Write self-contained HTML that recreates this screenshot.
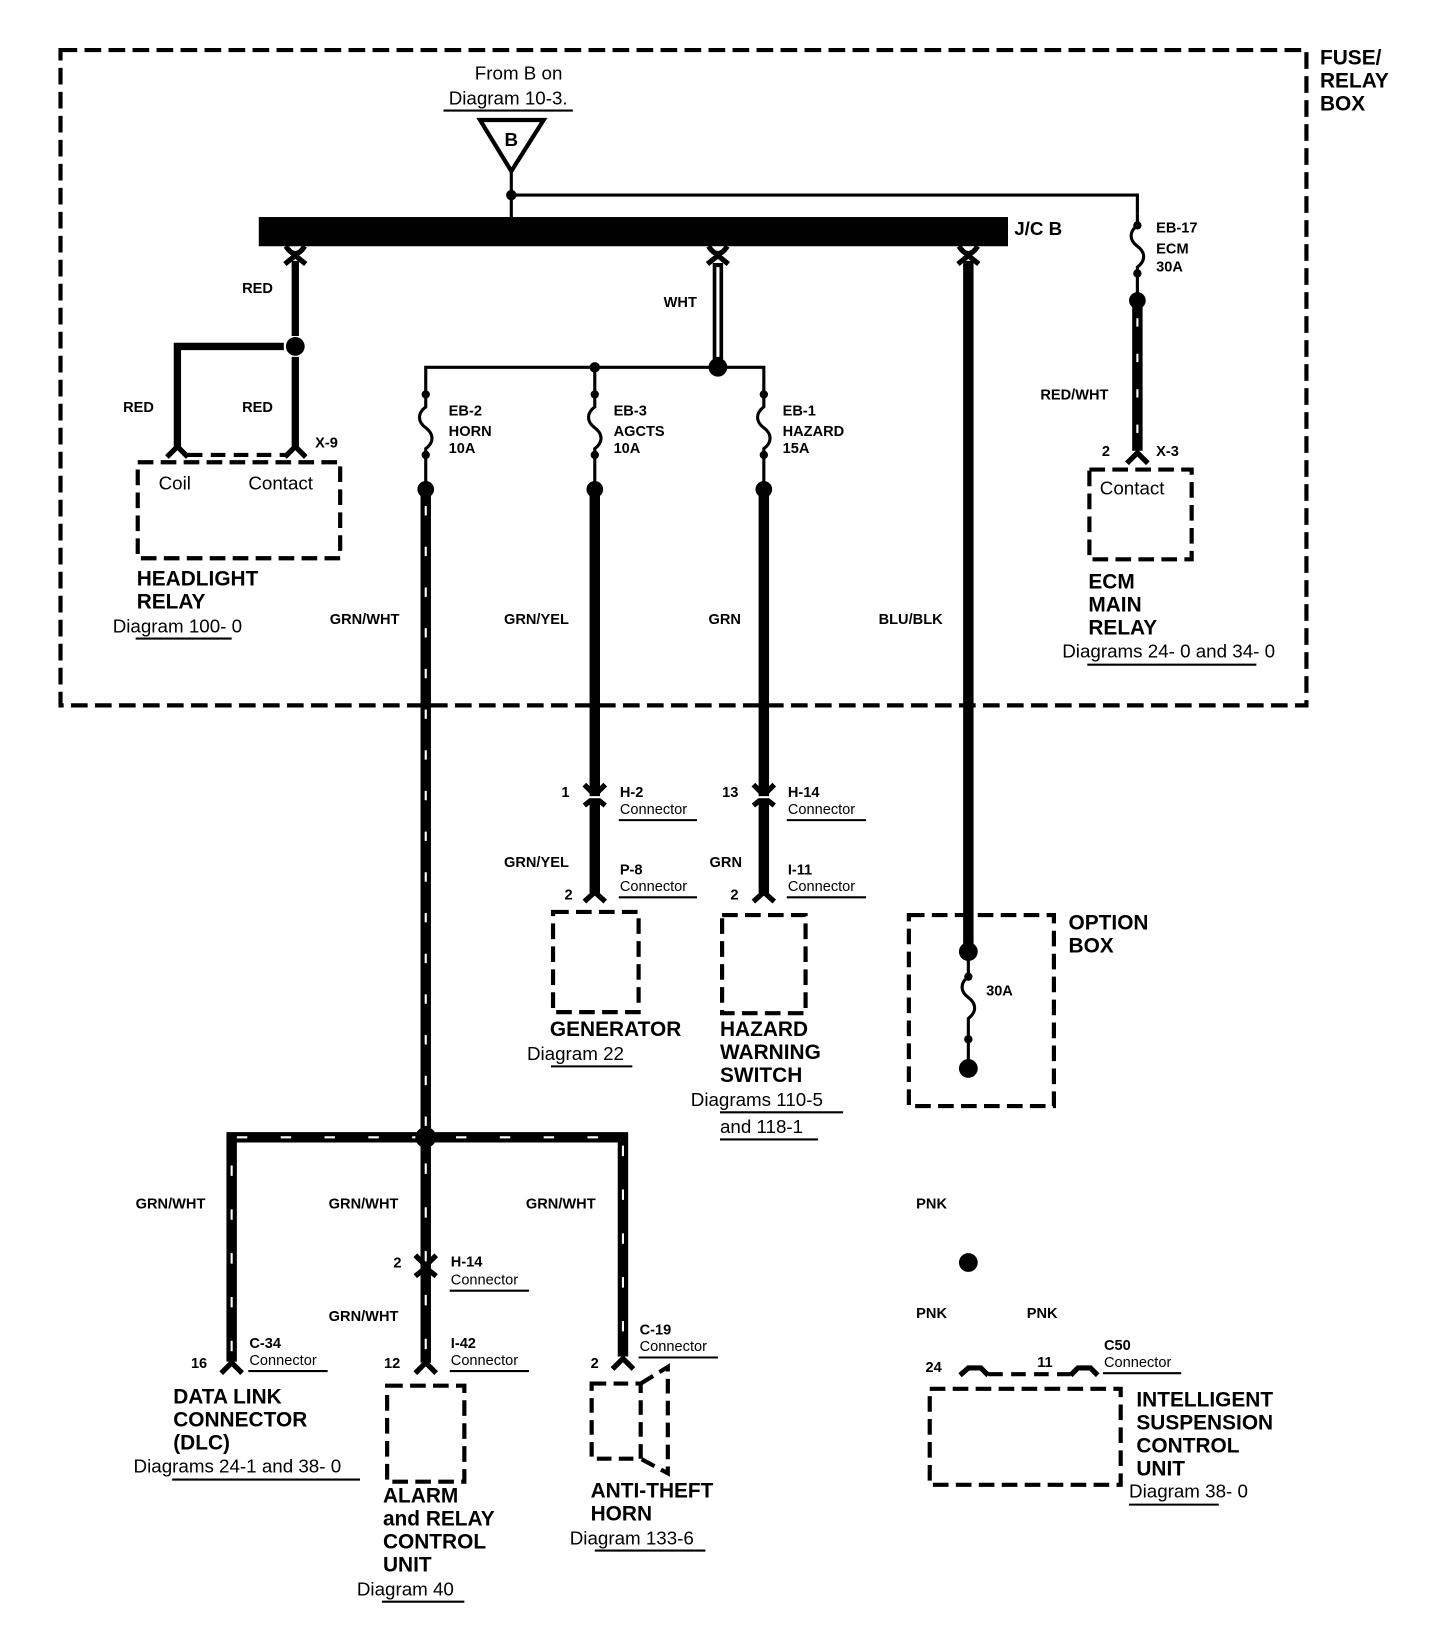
<!DOCTYPE html>
<html><head><meta charset="utf-8"><style>
html,body{margin:0;padding:0;background:#fff;}
svg{display:block}
text{font-family:"Liberation Sans",Arial,sans-serif;fill:#000}
.b{font-weight:bold}
.s{font-size:14px;font-weight:bold}
.c{font-size:14px}
.L{font-size:20px;font-weight:bold}
.d{font-size:18px}
</style></head><body>
<svg width="1440" height="1634" viewBox="0 0 1380 1566" preserveAspectRatio="none" xmlns="http://www.w3.org/2000/svg">
<g fill="none" stroke="#000" stroke-linecap="butt">
<rect x="58" y="48" width="1194" height="628" stroke-width="4" stroke-dasharray="16 7"/>
</g>
<text class="L" x="1265" y="62">FUSE/</text>
<text class="L" x="1265" y="84">RELAY</text>
<text class="L" x="1265" y="106">BOX</text>
<text class="d" x="497" y="76" text-anchor="middle">From B on</text>
<text class="d" x="487" y="100" text-anchor="middle">Diagram 10-3.</text>
<line x1="425" y1="106" x2="549" y2="106" stroke="#000" stroke-width="2"/>
<polygon points="460,115 521,115 490,164" fill="none" stroke="#000" stroke-width="4"/>
<text class="b" x="490" y="140" font-size="18" text-anchor="middle">B</text>
<g stroke="#000" fill="none" stroke-width="3">
<line x1="490" y1="164" x2="490" y2="210"/>
<polyline points="490,187 1090,187 1090,205"/>
<path d="M1090,205 L1090,216 C1082,222 1082,230 1090,236 C1098,242 1098,250 1090,256 L1090,288" stroke-width="3"/>
</g>
<circle cx="490" cy="187" r="5"/>
<circle cx="1090" cy="216" r="4"/><circle cx="1090" cy="262" r="4"/>
<circle cx="1090" cy="288" r="8"/>
<text class="s" x="1108" y="223">EB-17</text>
<text class="s" x="1108" y="243">ECM</text>
<text class="s" x="1108" y="260">30A</text>
<line x1="1090" y1="288" x2="1090" y2="432" stroke="#000" stroke-width="10"/>
<line x1="1090" y1="305" x2="1090" y2="430" stroke="#fff" stroke-width="2" stroke-dasharray="8 26"/>
<text class="s" x="997" y="383">RED/WHT</text>
<path d="M1080,444 L1090,434 L1100,444" stroke="#000" stroke-width="5" fill="none"/>
<text class="s" x="1056" y="437">2</text><text class="s" x="1108" y="437">X-3</text>
<rect x="1044" y="450" width="98" height="86" fill="none" stroke="#000" stroke-width="4" stroke-dasharray="15 7"/>
<text class="d" x="1054" y="474">Contact</text>
<text class="L" x="1043" y="564">ECM</text>
<text class="L" x="1043" y="586">MAIN</text>
<text class="L" x="1043" y="608">RELAY</text>
<text class="d" x="1018" y="630">Diagrams 24- 0 and 34- 0</text>
<line x1="1042" y1="637" x2="1204" y2="637" stroke="#000" stroke-width="2"/>
<rect x="248" y="208" width="718" height="28" fill="#000"/>
<text class="b" x="972" y="225" font-size="18">J/C B</text>
<g stroke="#000" stroke-width="5" fill="none">
<path d="M274,236 Q283,250 292,236"/><path d="M273,253 L283,245 L293,253"/>
<path d="M679,236 Q688,250 697,236"/><path d="M678,253 L688,245 L698,253"/>
<path d="M919,236 Q928,250 937,236"/><path d="M918,253 L928,245 L938,253"/>
</g>
<g stroke="#000" stroke-width="7" fill="none">
<line x1="283" y1="250" x2="283" y2="322"/>
<line x1="283" y1="342" x2="283" y2="428"/>
<polyline points="272,332 170,332 170,428"/>
</g>
<circle cx="283" cy="332" r="9"/>
<text class="s" x="232" y="281">RED</text>
<text class="s" x="118" y="395">RED</text>
<text class="s" x="232" y="395">RED</text>
<g stroke="#000" stroke-width="5" fill="none">
<path d="M160,438 L170,428 L180,438"/><path d="M273,438 L283,428 L293,438"/>
<line x1="180" y1="436" x2="273" y2="436" stroke-dasharray="14 8" stroke-width="4"/>
</g>
<text class="s" x="302" y="429">X-9</text>
<rect x="132" y="443" width="194" height="92" fill="none" stroke="#000" stroke-width="4" stroke-dasharray="15 7"/>
<text class="d" x="152" y="469">Coil</text>
<text class="d" x="238" y="469">Contact</text>
<text class="L" x="131" y="561">HEADLIGHT</text>
<text class="L" x="131" y="583">RELAY</text>
<text class="d" x="108" y="606">Diagram 100- 0</text>
<line x1="130" y1="612" x2="222" y2="612" stroke="#000" stroke-width="2"/>
<line x1="688" y1="252" x2="688" y2="348" stroke="#000" stroke-width="10"/>
<line x1="688" y1="256" x2="688" y2="342" stroke="#fff" stroke-width="3"/>
<text class="s" x="636" y="294">WHT</text>
<circle cx="688" cy="352" r="9"/>
<polyline points="408,376 408,352 732,352 732,376" fill="none" stroke="#000" stroke-width="3"/>
<line x1="570" y1="352" x2="570" y2="376" stroke="#000" stroke-width="3"/>
<circle cx="570" cy="352" r="5"/>
<g stroke="#000" stroke-width="3" fill="none">
<path d="M408,376 L408,390 C400,396 400,404 408,410 C416,416 416,424 408,430 L408,468"/>
<path d="M570,376 L570,390 C562,396 562,404 570,410 C578,416 578,424 570,430 L570,468"/>
<path d="M732,376 L732,390 C724,396 724,404 732,410 C740,416 740,424 732,430 L732,468"/>
</g>
<g>
<circle cx="408" cy="378" r="4"/><circle cx="408" cy="436" r="4"/><circle cx="408" cy="469" r="8"/>
<circle cx="570" cy="378" r="4"/><circle cx="570" cy="436" r="4"/><circle cx="570" cy="469" r="8"/>
<circle cx="732" cy="378" r="4"/><circle cx="732" cy="436" r="4"/><circle cx="732" cy="469" r="8"/>
</g>
<text class="s" x="430" y="398">EB-2</text><text class="s" x="430" y="418">HORN</text><text class="s" x="430" y="434">10A</text>
<text class="s" x="588" y="398">EB-3</text><text class="s" x="588" y="418">AGCTS</text><text class="s" x="588" y="434">10A</text>
<text class="s" x="750" y="398">EB-1</text><text class="s" x="750" y="418">HAZARD</text><text class="s" x="750" y="434">15A</text>
<line x1="408" y1="469" x2="408" y2="1090" stroke="#000" stroke-width="10"/>
<line x1="408" y1="485" x2="408" y2="1080" stroke="#fff" stroke-width="2" stroke-dasharray="9 30"/>
<text class="s" x="316" y="598">GRN/WHT</text>
<line x1="570" y1="469" x2="570" y2="856" stroke="#000" stroke-width="10"/>
<text class="s" x="483" y="598">GRN/YEL</text>
<line x1="732" y1="469" x2="732" y2="856" stroke="#000" stroke-width="10"/>
<text class="s" x="679" y="598">GRN</text>
<line x1="928" y1="250" x2="928" y2="912" stroke="#000" stroke-width="10"/>
<text class="s" x="842" y="598">BLU/BLK</text>
<g stroke="#000" stroke-width="5" fill="none">
<path d="M560,752 L570,762 L580,752"/><path d="M560,772 L570,764 L580,772"/>
<path d="M722,752 L732,762 L742,752"/><path d="M722,772 L732,764 L742,772"/>
<path d="M560,864 L570,855 L580,864"/><path d="M722,864 L732,855 L742,864"/>
</g>
<line x1="564" y1="764" x2="576" y2="764" stroke="#fff" stroke-width="2"/>
<line x1="726" y1="764" x2="738" y2="764" stroke="#fff" stroke-width="2"/>
<text class="s" x="538" y="764">1</text>
<text class="s" x="692" y="764">13</text>
<text class="s" x="594" y="764">H-2</text><text class="c" x="594" y="780">Connector</text>
<line x1="593" y1="786" x2="668" y2="786" stroke="#000" stroke-width="2"/>
<text class="s" x="755" y="764">H-14</text><text class="c" x="755" y="780">Connector</text>
<line x1="754" y1="786" x2="830" y2="786" stroke="#000" stroke-width="2"/>
<text class="s" x="483" y="831">GRN/YEL</text>
<text class="s" x="680" y="831">GRN</text>
<text class="s" x="594" y="838">P-8</text><text class="c" x="594" y="854">Connector</text>
<line x1="593" y1="860" x2="668" y2="860" stroke="#000" stroke-width="2"/>
<text class="s" x="755" y="838">I-11</text><text class="c" x="755" y="854">Connector</text>
<line x1="754" y1="860" x2="830" y2="860" stroke="#000" stroke-width="2"/>
<text class="s" x="541" y="862">2</text><text class="s" x="700" y="862">2</text>
<rect x="530" y="874" width="82" height="96" fill="none" stroke="#000" stroke-width="4" stroke-dasharray="15 7"/>
<rect x="692" y="877" width="80" height="94" fill="none" stroke="#000" stroke-width="4" stroke-dasharray="15 7"/>
<text class="L" x="527" y="993">GENERATOR</text>
<text class="d" x="505" y="1016">Diagram 22</text>
<line x1="528" y1="1022" x2="606" y2="1022" stroke="#000" stroke-width="2"/>
<text class="L" x="690" y="993">HAZARD</text>
<text class="L" x="690" y="1015">WARNING</text>
<text class="L" x="690" y="1037">SWITCH</text>
<text class="d" x="662" y="1060">Diagrams 110-5</text>
<line x1="690" y1="1066" x2="808" y2="1066" stroke="#000" stroke-width="2"/>
<text class="d" x="690" y="1086">and 118-1</text>
<line x1="690" y1="1092" x2="784" y2="1092" stroke="#000" stroke-width="2"/>
<rect x="871" y="877" width="139" height="183" fill="none" stroke="#000" stroke-width="4" stroke-dasharray="15 7"/>
<text class="L" x="1024" y="891">OPTION</text>
<text class="L" x="1024" y="913">BOX</text>
<path d="M928,912 L928,936 C920,942 920,950 928,956 C936,962 936,970 928,976 L928,1024" stroke="#000" stroke-width="3" fill="none"/>
<circle cx="928" cy="912" r="9"/><circle cx="928" cy="936" r="4"/><circle cx="928" cy="996" r="4"/><circle cx="928" cy="1024" r="9"/>
<text class="s" x="945" y="954">30A</text>
<g stroke="#000" stroke-width="10" fill="none">
<polyline points="222,1305 222,1090 597,1090 597,1300"/>
<line x1="408" y1="1090" x2="408" y2="1306"/>
</g>
<g stroke="#fff" stroke-width="2" fill="none" stroke-dasharray="10 32">
<polyline points="222,1295 222,1090 597,1090 597,1290"/>
<line x1="408" y1="1115" x2="408" y2="1296"/>
</g>
<circle cx="408" cy="1090" r="10"/>
<text class="s" x="130" y="1158">GRN/WHT</text>
<text class="s" x="315" y="1158">GRN/WHT</text>
<text class="s" x="504" y="1158">GRN/WHT</text>
<text class="s" x="315" y="1266">GRN/WHT</text>
<g stroke="#000" stroke-width="5" fill="none">
<path d="M398,1203 L408,1213 L418,1203"/><path d="M398,1223 L408,1215 L418,1223"/>
<path d="M212,1316 L222,1306 L232,1316"/>
<path d="M398,1316 L408,1306 L418,1316"/>
<path d="M587,1312 L597,1302 L607,1312"/>
</g>
<text class="s" x="377" y="1215">2</text>
<text class="s" x="432" y="1214">H-14</text><text class="c" x="432" y="1231">Connector</text>
<line x1="431" y1="1237" x2="507" y2="1237" stroke="#000" stroke-width="2"/>
<text class="s" x="239" y="1292">C-34</text><text class="c" x="239" y="1308">Connector</text>
<line x1="238" y1="1314" x2="314" y2="1314" stroke="#000" stroke-width="2"/>
<text class="s" x="432" y="1292">I-42</text><text class="c" x="432" y="1308">Connector</text>
<line x1="431" y1="1314" x2="507" y2="1314" stroke="#000" stroke-width="2"/>
<text class="s" x="613" y="1279">C-19</text><text class="c" x="613" y="1295">Connector</text>
<line x1="612" y1="1301" x2="688" y2="1301" stroke="#000" stroke-width="2"/>
<text class="s" x="183" y="1311">16</text>
<text class="s" x="368" y="1311">12</text>
<text class="s" x="566" y="1311">2</text>
<text class="L" x="166" y="1345">DATA LINK</text>
<text class="L" x="166" y="1367">CONNECTOR</text>
<text class="L" x="166" y="1389">(DLC)</text>
<text class="d" x="128" y="1411">Diagrams 24-1 and 38- 0</text>
<line x1="165" y1="1418" x2="345" y2="1418" stroke="#000" stroke-width="2"/>
<rect x="371" y="1328" width="74" height="92" fill="none" stroke="#000" stroke-width="4" stroke-dasharray="15 7"/>
<text class="L" x="367" y="1440">ALARM</text>
<text class="L" x="367" y="1462">and RELAY</text>
<text class="L" x="367" y="1484">CONTROL</text>
<text class="L" x="367" y="1506">UNIT</text>
<text class="d" x="342" y="1529">Diagram 40</text>
<line x1="366" y1="1535" x2="445" y2="1535" stroke="#000" stroke-width="2"/>
<rect x="567" y="1326" width="47" height="72" fill="none" stroke="#000" stroke-width="4" stroke-dasharray="14 7"/>
<polyline points="614,1326 640,1310 640,1412 614,1398" fill="none" stroke="#000" stroke-width="4" stroke-dasharray="14 7"/>
<text class="L" x="566" y="1435">ANTI-THEFT</text>
<text class="L" x="566" y="1457">HORN</text>
<text class="d" x="546" y="1480">Diagram 133-6</text>
<line x1="570" y1="1486" x2="676" y2="1486" stroke="#000" stroke-width="2"/>
<text class="s" x="878" y="1158">PNK</text>
<circle cx="928" cy="1210" r="9"/>
<text class="s" x="878" y="1263">PNK</text>
<text class="s" x="984" y="1263">PNK</text>
<text class="s" x="887" y="1315">24</text>
<text class="s" x="994" y="1310">11</text>
<text class="s" x="1058" y="1294">C50</text><text class="c" x="1058" y="1310">Connector</text>
<line x1="1057" y1="1316" x2="1132" y2="1316" stroke="#000" stroke-width="2"/>
<path d="M920,1318 L928,1311 L940,1311 L947,1318" fill="none" stroke="#000" stroke-width="5"/>
<path d="M1026,1318 L1033,1311 L1045,1311 L1052,1318" fill="none" stroke="#000" stroke-width="5"/>
<line x1="947" y1="1317" x2="1026" y2="1317" stroke="#000" stroke-width="4" stroke-dasharray="14 8"/>
<rect x="891" y="1331" width="183" height="92" fill="none" stroke="#000" stroke-width="4" stroke-dasharray="15 7"/>
<text class="L" x="1089" y="1348">INTELLIGENT</text>
<text class="L" x="1089" y="1370">SUSPENSION</text>
<text class="L" x="1089" y="1392">CONTROL</text>
<text class="L" x="1089" y="1414">UNIT</text>
<text class="d" x="1082" y="1435">Diagram 38- 0</text>
<line x1="1082" y1="1442" x2="1168" y2="1442" stroke="#000" stroke-width="2"/>
</svg>
</body></html>
